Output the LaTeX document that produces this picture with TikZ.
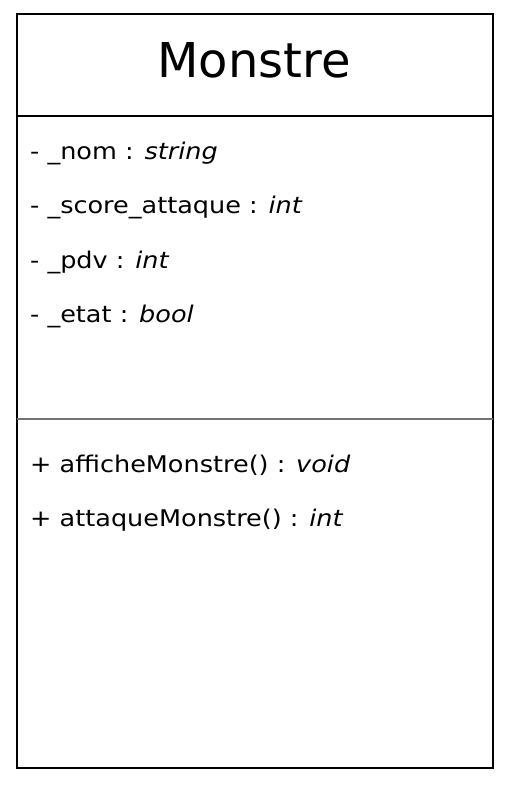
\documentclass[tikz,border=0pt]{standalone}
\usepackage{fontspec}
\setmainfont{DejaVu Sans}
\newfontfamily\widefont[FakeStretch=1.11]{DejaVu Sans}
\begin{document}
\begin{tikzpicture}[x=1pt, y=-1pt,
  member/.style={anchor=base west, inner sep=0pt, font=\widefont\fontsize{23}{27}\selectfont},
  title/.style={anchor=base, inner sep=0pt, font=\fontsize{48}{54}\selectfont}]
\useasboundingbox (0,0) rectangle (513,786);
\coordinate (nw) at (17,14);
\coordinate (se) at (493,768);
\coordinate (t1) at (17,116);
\coordinate (t2) at (493,116);
\coordinate (s1) at (17,419);
\coordinate (s2) at (493,419);
\draw[line width=2pt] (nw) rectangle (se);
\draw[line width=2pt] (t1) -- (t2);
\draw[line width=1.5pt, black!55] (s1) -- (s2);
\node[title] (name) at (254,78) {Monstre};
\node[member] (nom) at (30,160) {- \_nom : \textit{string}};
\node[member] (score) at (30,214) {- \_score\_attaque : \textit{int}};
\node[member] (pdv) at (30,268) {- \_pdv : \textit{int}};
\node[member] (etat) at (30,322) {- \_etat : \textit{bool}};
\node[member] (affiche) at (30,472) {+ afficheMonstre() : \textit{void}};
\node[member] (attaque) at (30,526) {+ attaqueMonstre() : \textit{int}};
\end{tikzpicture}
\end{document}
